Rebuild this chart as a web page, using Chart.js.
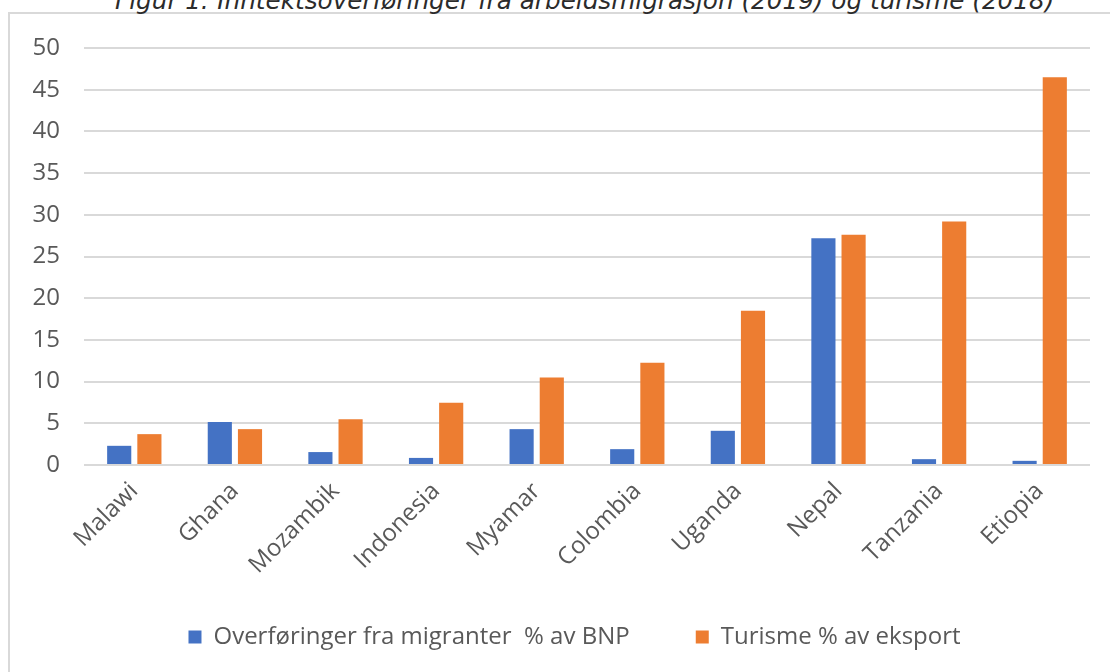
<!DOCTYPE html>
<html>
<head>
<meta charset="utf-8">
<script src="https://cdn.jsdelivr.net/npm/chart.js@4"></script>
<style>
  html, body { margin: 0; padding: 0; background: #fff; overflow: hidden; }
  #frame { position: absolute; left: 8px; top: 12px; width: 1200px; height: 800px; border: 2px solid #d9d9d9; }
  #title { position: absolute; left: 115px; top: -11px; line-height: 24px; white-space: nowrap;
           font-family: 'DejaVu Sans', sans-serif; font-style: italic; font-size: 24.7px; color: #2b2b2b; }
  #wrap { position: absolute; left: 0; top: 0; width: 1110px; height: 672px; }
</style>
</head>
<body>
<div id="frame"></div>
<div id="title">Figur 1: Inntektsoverføringer fra arbeidsmigrasjon (2019) og turisme (2018)</div>
<div id="wrap"><canvas id="chart"></canvas></div>
<script>
// Countries along the x axis
const countries = ['Malawi', 'Ghana', 'Mozambik', 'Indonesia', 'Myamar', 'Colombia', 'Uganda', 'Nepal', 'Tanzania', 'Etiopia'];

// Remittances from migrants, % of GDP (2019)
const remittances = [2.3, 5.15, 1.55, 0.85, 4.3, 1.9, 4.1, 27.2, 0.7, 0.5];

// Tourism, % of exports (2018)
const tourism = [3.7, 4.3, 5.5, 7.45, 10.5, 12.25, 18.5, 27.6, 29.2, 46.5];

const seriesNames = ['Overføringer fra migranter  % av BNP', 'Turisme % av eksport'];

Chart.defaults.font.family = "'Open Sans', sans-serif";
Chart.defaults.color = '#595959';

const ctx = document.getElementById('chart');

new Chart(ctx, {
    type: 'bar',
    data: {
        labels: countries,
        datasets: [
            {
                label: seriesNames[0],
                data: remittances,
                backgroundColor: '#4472C4',
            },
            {
                label: seriesNames[1],
                data: tourism,
                backgroundColor: '#ED7D31',
            }
        ],
    },
    options: {
        responsive: true,
        maintainAspectRatio: false,
        animation: false,
        layout: {
            padding: { top: 48, left: 0, right: 20, bottom: 13 }
        },
        datasets: {
            bar: { categoryPercentage: 0.6, barPercentage: 0.8 }
        },
        scales: {
            x: {
                grid: { display: false },
                border: { display: false },
                ticks: {
                    autoSkip: false,
                    minRotation: 45,
                    maxRotation: 45,
                    padding: 4,
                    font: { size: 24 },
                },
                afterFit: (scale) => { scale.height = 150; },
            },
            y: {
                min: 0,
                max: 50,
                grid: { color: '#d9d9d9', lineWidth: 2, drawTicks: false },
                border: { display: false },
                ticks: {
                    stepSize: 5,
                    padding: 24,
                    font: { size: 24 },
                },
                afterFit: (scale) => { scale.width = 84; },
            },
        },
        plugins: {
            tooltip: { enabled: false },
            legend: {
                position: 'bottom',
                fullSize: false,
                labels: {
                    boxWidth: 13,
                    boxHeight: 13,
                    padding: 10,
                    font: { size: 24 },
                    // wider gap between the two entries, as in the original legend
                    generateLabels: (chart) => {
                        const items = Chart.defaults.plugins.legend.labels.generateLabels(chart);
                        items[0].text = items[0].text + '\u00a0'.repeat(9);
                        items[1].text = items[1].text + '\u00a0'.repeat(4);
                        return items;
                    },
                },
            },
        },
    },
});
</script>
</body>
</html>
